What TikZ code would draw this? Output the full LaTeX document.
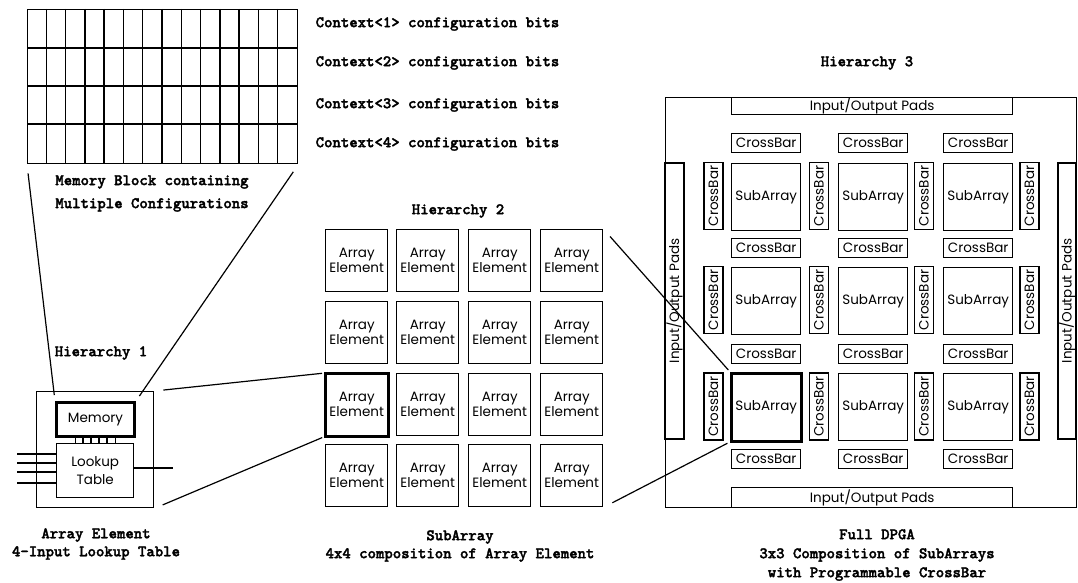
\documentclass[tikz,border=0pt]{standalone}
\usepackage{fontspec}
\newfontfamily\boxfont{Poppins}
\newfontfamily\capfont{lmmonolt10-bold.otf}[FakeBold=2]
\begin{document}
\begin{tikzpicture}[x=1pt,y=-1pt,line width=1.4pt,
  box/.style={draw,line width=1.4pt,inner sep=0pt,align=center,anchor=north west,
    font=\boxfont\fontsize{13.5}{15}\selectfont},
  hl/.style={line width=3pt},
  captxt/.style={inner sep=0pt,align=center,font=\capfont\fontsize{16}{18}\selectfont},
  link/.style={line width=1.2pt}]
\useasboundingbox (0,0) rectangle (1078,583);
% ---------- memory block ----------
\node[draw,line width=1.4pt,inner sep=0pt,anchor=north west,minimum width=270pt,minimum height=154pt] (memblk) at (27,9) {};
\foreach \i in {1,...,13} \draw (27+\i*19.2857,9) -- (27+\i*19.2857,163);
\foreach \y in {48,86,124} \draw (27,\y) -- (297,\y);
\foreach \n/\y in {1/24,2/63,3/105,4/144}
  \node[captxt,anchor=west] (ctx\n) at (315,\y) {Context<\n> configuration bits};
\node[captxt,font=\capfont\fontsize{16}{23}\selectfont] (memcap) at (152,193.5) {Memory Block containing\\Multiple Configurations};
% ---------- hierarchy 1 ----------
\node[captxt] (h1) at (101,353) {Hierarchy 1};
\node[box,minimum width=117pt,minimum height=116pt] (ae) at (36,391) {};
\node[box,hl,minimum width=78pt,minimum height=34pt] (mem) at (55,401) {Memory};
\node[box,minimum width=40pt,minimum height=8pt] (bus) at (75,435) {};
\foreach \x in {83,91,99,107} \draw (bus.north west -| \x,0) -- (bus.south west -| \x,0);
\node[box,minimum width=77pt,minimum height=54pt,font=\boxfont\fontsize{13.5}{18}\selectfont] (lut) at (56,443) {Lookup\\Table};
\foreach \y [count=\k] in {454,463,472,483} {
  \coordinate (in\k) at (17,\y);
  \draw (in\k) -- (lut.west |- in\k);
}
\coordinate (out) at (173,468);
\draw (lut.east |- out) -- (out);
\node[captxt] (h1cap) at (96,544) {Array Element\\4-Input Lookup Table};
\draw[link,shorten <=9pt,shorten >=6pt] (memblk.south west) -- (mem.north west);
\draw[link,shorten <=9pt,shorten >=6pt] (memblk.south east) -- (mem.north east);
% ---------- hierarchy 2 ----------
\node[captxt] (h2) at (458,211) {Hierarchy 2};
\foreach \c/\x in {0/325,1/396,2/468,3/540}
  \foreach \r/\y in {0/229,1/301,2/373,3/444}
    \node[box,minimum width=62pt,minimum height=62pt] (e\r\c) at (\x,\y) {Array\\Element};
\draw[hl] (e20.north west) rectangle (e20.south east);
\node[captxt] (h2cap) at (460,546) {SubArray\\4x4 composition of Array Element};
\draw[link,shorten <=9pt,shorten >=3pt] (ae.north east) -- (e20.north west);
\draw[link,shorten <=9pt,shorten >=3pt] (ae.south east) -- (e20.south west);
% ---------- hierarchy 3 ----------
\node[captxt] (h3) at (867,63) {Hierarchy 3};
\node[box,minimum width=411pt,minimum height=410pt] (dpga) at (665,97) {};
\node[box,minimum width=281pt,minimum height=17pt] (iot) at (731,97) {Input/Output Pads};
\node[box,minimum width=281pt,minimum height=20pt] (iob) at (731,487) {Input/Output Pads};
\node[box,minimum width=276pt,minimum height=19pt,rotate=90,anchor=center] (iol) at (674.5,301) {Input/Output Pads};
\node[box,minimum width=276pt,minimum height=18pt,rotate=90,anchor=center] (ior) at (1067,301) {Input/Output Pads};
\foreach \c/\x in {0/731,1/838,2/943}
  \foreach \r/\y in {0/163,1/267,2/373}
    \node[box,minimum width=69pt,minimum height=67pt] (s\r\c) at (\x,\y) {SubArray};
\foreach \c/\x in {0/731,1/838,2/943}
  \foreach \r/\y in {0/133,1/238,2/344,3/449}
    \node[box,minimum width=69pt,minimum height=19pt] (hc\r\c) at (\x,\y) {CrossBar};
\foreach \c/\x in {0/713.5,1/819,2/924,3/1029.5}
  \foreach \r/\y in {0/196,1/300,2/406.5}
    \node[box,rotate=90,anchor=center,minimum width=67pt,minimum height=19pt] (vc\r\c) at (\x,\y) {CrossBar};
\draw[hl] (s20.north west) rectangle (s20.south east);
\node[captxt,font=\capfont\fontsize{16}{19}\selectfont] (h3cap) at (877,555) {Full DPGA\\3x3 Composition of SubArrays\\with Programmable CrossBar};
\draw[link,shorten <=10pt,shorten >=4pt] (e03.north east) -- (s20.north west);
\draw[link,shorten <=10pt,shorten >=4pt] (e33.south east) -- (s20.south west);
\end{tikzpicture}
\end{document}
